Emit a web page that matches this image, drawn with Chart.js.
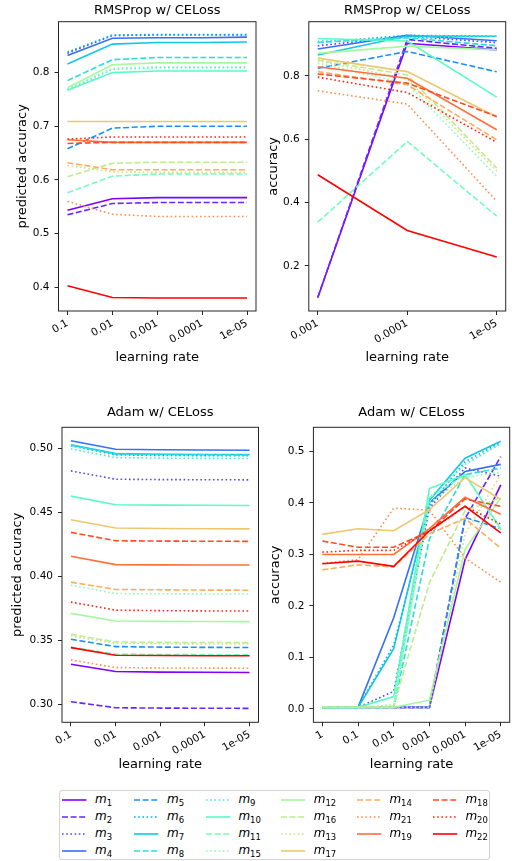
<!DOCTYPE html>
<html><head><meta charset="utf-8">
<script src="https://cdn.jsdelivr.net/npm/chart.js@4.4.0/dist/chart.umd.min.js"></script>
<style>
html,body{margin:0;padding:0;background:#fff;}
body{width:512px;height:861px;position:relative;overflow:hidden;font-family:'DejaVu Sans',sans-serif;}
canvas{position:absolute;}
#legend{position:absolute;left:59px;top:790px;width:431px;height:70px;border:1px solid #d4d4d4;border-radius:3px;box-sizing:border-box;background:#fff;}
.sample{position:absolute;}
.lab{position:absolute;white-space:nowrap;font-size:12px;line-height:18px;height:18px;color:#000;font-family:'DejaVu Sans',sans-serif;}
.lab i{font-style:italic;}
.lab sub{font-size:8.5px;vertical-align:-3px;line-height:0;font-style:normal;}
</style></head><body>
<canvas id="c1"></canvas>
<canvas id="c2"></canvas>
<canvas id="c3"></canvas>
<canvas id="c4"></canvas>
<div id="legend"></div>
<script>
// ---------------- DATA ----------------
// series in legend order (subscript of m)
const seriesIds = ['1','2','3','4','5','6','7','8','9','10','11','15','12','16','13','17','14','21','19','18','20','22'];

const lrLabels5 = ['0.1','0.01','0.001','0.0001','1e-05'];
const lrLabels3 = ['0.001','0.0001','1e-05'];
const lrLabels6 = ['1','0.1','0.01','0.001','0.0001','1e-05'];

const yTicksRmsPred = [0.4,0.5,0.6,0.7,0.8];
const yTicksRmsAcc = [0.2,0.4,0.6,0.8];
const yTicksAdamPred = [0.30,0.35,0.40,0.45,0.50];
const yTicksAdamAcc = [0.0,0.1,0.2,0.3,0.4,0.5];

// RMSProp w/ CELoss - predicted accuracy (rows follow seriesIds)
const rmsPredicted = [
  [0.5435, 0.565, 0.567, 0.567, 0.567],   // m1
  [0.535, 0.556, 0.558, 0.558, 0.558],    // m2
  [0.836, 0.869, 0.870, 0.870, 0.870],    // m3
  [0.832, 0.864, 0.865, 0.865, 0.866],    // m4
  [0.658, 0.6965, 0.700, 0.700, 0.700],   // m5
  [0.838, 0.870, 0.871, 0.871, 0.871],    // m6
  [0.816, 0.853, 0.856, 0.856, 0.857],    // m7
  [0.785, 0.824, 0.828, 0.828, 0.828],    // m8
  [0.768, 0.806, 0.809, 0.809, 0.809],    // m9
  [0.767, 0.800, 0.803, 0.803, 0.803],    // m10
  [0.576, 0.607, 0.611, 0.611, 0.611],    // m11
  [0.770, 0.808, 0.811, 0.811, 0.811],    // m15
  [0.772, 0.8146, 0.818, 0.818, 0.818],   // m12
  [0.606, 0.631, 0.633, 0.633, 0.633],    // m16
  [0.627, 0.615, 0.614, 0.614, 0.614],    // m13
  [0.709, 0.709, 0.709, 0.709, 0.709],    // m17
  [0.632, 0.619, 0.619, 0.619, 0.619],    // m14
  [0.560, 0.536, 0.532, 0.532, 0.532],    // m21
  [0.675, 0.670, 0.670, 0.670, 0.670],    // m19
  [0.668, 0.670, 0.670, 0.670, 0.670],    // m18
  [0.676, 0.680, 0.680, 0.680, 0.680],    // m20
  [0.403, 0.381, 0.380, 0.380, 0.380]     // m22
];

// RMSProp w/ CELoss - accuracy
const rmsAccuracy = [
  [0.10, 0.903, 0.882],   // m1
  [0.10, 0.915, 0.887],   // m2
  [0.895, 0.925, 0.905],  // m3
  [0.885, 0.928, 0.911],  // m4
  [0.824, 0.877, 0.813],  // m5
  [0.905, 0.928, 0.925],  // m6
  [0.866, 0.926, 0.925],  // m7
  [0.906, 0.920, 0.895],  // m8
  [0.910, 0.920, 0.925],  // m9
  [0.918, 0.910, 0.733],  // m10
  [0.338, 0.593, 0.357],  // m11
  [0.840, 0.775, 0.482],  // m15
  [0.871, 0.894, 0.882],  // m12
  [0.850, 0.803, 0.509],  // m16
  [0.848, 0.790, 0.500],  // m13
  [0.856, 0.8135, 0.670], // m17
  [0.8135, 0.772, 0.598], // m14
  [0.753, 0.711, 0.404],  // m21
  [0.829, 0.7925, 0.630], // m19
  [0.806, 0.777, 0.672],  // m18
  [0.796, 0.7475, 0.590], // m20
  [0.488, 0.312, 0.228]   // m22
];

// Adam w/ CELoss - predicted accuracy
const adamPredicted = [
  [0.3311, 0.3254, 0.3249, 0.3248, 0.3247], // m1
  [0.3018, 0.2971, 0.2968, 0.2967, 0.2966], // m2
  [0.4823, 0.4758, 0.4755, 0.4754, 0.4753], // m3
  [0.5059, 0.4992, 0.4988, 0.4986, 0.4985], // m4
  [0.3506, 0.3449, 0.3445, 0.3443, 0.3442], // m5
  [0.5020, 0.4948, 0.4944, 0.4942, 0.4941], // m6
  [0.5028, 0.4958, 0.4953, 0.4951, 0.4950], // m7
  [0.5024, 0.4955, 0.4951, 0.4949, 0.4948], // m8
  [0.4995, 0.4927, 0.4923, 0.4921, 0.4920], // m9
  [0.4626, 0.4558, 0.4555, 0.4554, 0.4553], // m10
  [0.3446, 0.3389, 0.3387, 0.3386, 0.3385], // m11
  [0.3929, 0.3864, 0.3862, 0.3861, 0.3860], // m15
  [0.3709, 0.3649, 0.3646, 0.3645, 0.3644], // m12
  [0.3545, 0.3485, 0.3482, 0.3481, 0.3480], // m16
  [0.3532, 0.3474, 0.3471, 0.3470, 0.3469], // m13
  [0.4441, 0.4376, 0.4372, 0.4371, 0.4370], // m17
  [0.3953, 0.3896, 0.3893, 0.3891, 0.3890], // m14
  [0.3345, 0.3285, 0.3282, 0.3281, 0.3280], // m21
  [0.4155, 0.4090, 0.4088, 0.4087, 0.4087], // m19
  [0.4342, 0.4277, 0.4274, 0.4273, 0.4272], // m18
  [0.3797, 0.3734, 0.3730, 0.3728, 0.3727], // m20
  [0.3441, 0.3381, 0.3379, 0.3378, 0.3377]  // m22
];

// Adam w/ CELoss - accuracy
const adamAccuracy = [
  [0.003, 0.003, 0.003, 0.003, 0.290, 0.435], // m1
  [0.003, 0.003, 0.003, 0.003, 0.370, 0.490], // m2
  [0.003, 0.003, 0.034, 0.390, 0.468, 0.452], // m3
  [0.003, 0.003, 0.177, 0.400, 0.461, 0.475], // m4
  [0.003, 0.003, 0.003, 0.003, 0.372, 0.350], // m5
  [0.003, 0.003, 0.124, 0.395, 0.480, 0.518], // m6
  [0.003, 0.003, 0.117, 0.405, 0.487, 0.520], // m7
  [0.003, 0.003, 0.003, 0.330, 0.455, 0.468], // m8
  [0.003, 0.003, 0.005, 0.410, 0.475, 0.515], // m9
  [0.003, 0.003, 0.024, 0.428, 0.455, 0.350], // m10
  [0.003, 0.003, 0.003, 0.410, 0.455, 0.348], // m11
  [0.003, 0.003, 0.008, 0.400, 0.450, 0.460], // m15
  [0.003, 0.003, 0.003, 0.017, 0.310, 0.410], // m12
  [0.003, 0.003, 0.005, 0.245, 0.385, 0.410], // m16
  [0.003, 0.003, 0.003, 0.003, 0.340, 0.455], // m13
  [0.339, 0.350, 0.346, 0.387, 0.449, 0.407], // m17
  [0.270, 0.280, 0.2755, 0.340, 0.370, 0.312], // m14
  [0.283, 0.290, 0.390, 0.386, 0.293, 0.246], // m21
  [0.300, 0.300, 0.300, 0.350, 0.411, 0.378], // m19
  [0.326, 0.314, 0.314, 0.345, 0.408, 0.3935], // m18
  [0.3045, 0.308, 0.308, 0.345, 0.3935, 0.359], // m20
  [0.282, 0.287, 0.277, 0.346, 0.3935, 0.342]  // m22
];

// ---------------- STYLE ----------------
function rainbow(x){
  const c = v => Math.max(0, Math.min(1, v));
  const r = c(Math.abs(2*x - 0.5)), g = c(Math.sin(Math.PI*x)), b = c(Math.cos(Math.PI*x/2));
  return 'rgb(' + Math.round(r*255) + ',' + Math.round(g*255) + ',' + Math.round(b*255) + ')';
}
const N = seriesIds.length;
const colors = seriesIds.map((_, i) => rainbow(i/(N-1)));
const dashStyles = [[], [6.0, 2.6], [1.6, 2.6]];
const dashFor = i => dashStyles[i % 3];
const LW = 1.6;

Chart.defaults.font.family = "'DejaVu Sans', sans-serif";
Chart.defaults.color = '#000';

const framePlugin = {
  id: 'frame',
  afterDatasetsDraw(chart){
    const {ctx, chartArea:{left, top, right, bottom}} = chart;
    ctx.save();
    ctx.strokeStyle = '#262626';
    ctx.lineWidth = 1;
    ctx.strokeRect(left, top, right-left, bottom-top);
    ctx.restore();
  }
};

function makeChart(cfg){
  const cv = document.getElementById(cfg.id);
  const r = cfg.rect, a = cfg.area;
  cv.width = r.w; cv.height = r.h;
  cv.style.left = r.x + 'px'; cv.style.top = r.y + 'px';
  cv.style.width = r.w + 'px'; cv.style.height = r.h + 'px';
  const half = 13*1.2/2;
  const padLeft = cfg.yLabX - r.x - half;
  const yWidth = a.L - r.x - padLeft;
  const padRight = r.x + r.w - a.R;
  const padTop = (cfg.titleY - r.y) - half;
  const titleBottom = a.T - cfg.titleY - half;
  const xHeight = cfg.xLabY - a.B + half;
  const padBottom = (r.y + r.h) - (a.B + xHeight);

  const datasets = cfg.rows.map((row, i) => ({
    label: 'm' + seriesIds[i],
    data: row.map((v, j) => ({x: j, y: v})),
    borderColor: colors[i],
    backgroundColor: colors[i],
    borderWidth: LW,
    borderDash: dashFor(i),
    borderCapStyle: 'butt',
    pointRadius: 0,
    tension: 0,
    fill: false,
    order: -i
  }));
  const n = cfg.xLabels.length;
  return new Chart(cv, {
    type: 'line',
    data: {datasets},
    plugins: [framePlugin],
    options: {
      responsive: false, animation: false, devicePixelRatio: 1,
      layout: {padding: {left: padLeft, right: padRight, top: padTop, bottom: padBottom}},
      plugins: {
        legend: {display: false}, tooltip: {enabled: false},
        title: {display: true, text: cfg.title, fullSize: false,
                font: {size: 13, weight: 'normal'}, color: '#000',
                padding: {top: 0, bottom: titleBottom}}
      },
      scales: {
        x: {
          type: 'linear', min: cfg.xMin, max: cfg.xMax,
          afterBuildTicks: s => { s.ticks = cfg.xLabels.map((_, j) => ({value: j})); },
          afterFit: s => { s.height = xHeight; s.paddingLeft = 0; s.paddingRight = 0; s.paddingTop = 0; s.paddingBottom = 0; },
          ticks: {autoSkip: false, minRotation: 30, maxRotation: 30, padding: 2,
                  font: {size: 10.5}, color: '#000',
                  callback: v => cfg.xLabels[v]},
          grid: {display: true, drawOnChartArea: false, drawTicks: true, tickLength: 4, color: '#262626', lineWidth: 1},
          border: {display: false},
          title: {display: true, text: 'learning rate', font: {size: 13}, color: '#000', padding: {top: 0, bottom: 0}}
        },
        y: {
          type: 'linear', min: cfg.yMin, max: cfg.yMax,
          afterBuildTicks: s => { s.ticks = cfg.yTicks.map(v => ({value: v})); },
          afterFit: s => { s.width = yWidth; s.paddingLeft = 0; s.paddingRight = 0; s.paddingTop = 0; s.paddingBottom = 0; },
          ticks: {padding: 5, font: {size: 10.5}, color: '#000',
                  callback: v => Number(v).toFixed(cfg.yDec)},
          grid: {display: true, drawOnChartArea: false, drawTicks: true, tickLength: 4, color: '#262626', lineWidth: 1},
          border: {display: false},
          title: {display: true, text: cfg.yLabel, font: {size: 13}, color: '#000', padding: {top: 0, bottom: 0}}
        }
      }
    }
  });
}

makeChart({id: 'c1', rect: {x: 0, y: 0, w: 275, h: 380}, area: {L: 58.5, T: 21.7, R: 256, B: 311},
  titleY: 10.5, yLabX: 23, xLabY: 358, title: 'RMSProp w/ CELoss', yLabel: 'predicted accuracy',
  xLabels: lrLabels5, xMin: -0.2, xMax: 4.2, yTicks: yTicksRmsPred, yDec: 1, yMin: 0.3558, yMax: 0.8948, rows: rmsPredicted});
makeChart({id: 'c2', rect: {x: 262, y: 0, w: 250, h: 380}, area: {L: 308.8, T: 21.7, R: 505.7, B: 311},
  titleY: 10.5, yLabX: 273.5, xLabY: 358, title: 'RMSProp w/ CELoss', yLabel: 'accuracy',
  xLabels: lrLabels3, xMin: -0.1, xMax: 2.1, yTicks: yTicksRmsAcc, yDec: 1, yMin: 0.0577, yMax: 0.971, rows: rmsAccuracy});
makeChart({id: 'c3', rect: {x: 0, y: 385, w: 275, h: 405}, area: {L: 62, T: 427.3, R: 258.5, B: 722.3},
  titleY: 413, yLabX: 18, xLabY: 765, title: 'Adam w/ CELoss', yLabel: 'predicted accuracy',
  xLabels: lrLabels5, xMin: -0.2, xMax: 4.2, yTicks: yTicksAdamPred, yDec: 2, yMin: 0.2857, yMax: 0.5164, rows: adamPredicted});
makeChart({id: 'c4', rect: {x: 262, y: 385, w: 250, h: 405}, area: {L: 313.4, T: 427.3, R: 509.7, B: 722.3},
  titleY: 413, yLabX: 275.5, xLabY: 765, title: 'Adam w/ CELoss', yLabel: 'accuracy',
  xLabels: lrLabels6, xMin: -0.25, xMax: 5.25, yTicks: yTicksAdamAcc, yDec: 1, yMin: -0.026, yMax: 0.547, rows: adamAccuracy});

// ---------------- LEGEND (HTML) ----------------
const legendColX = [62.3, 134.3, 205.7, 281, 356.7, 432.7];
const legendRowY = [800, 817.2, 834.3, 851.3];
const perCol = [4, 4, 4, 4, 3, 3];
const body = document.body;
let idx = 0;
perCol.forEach((cnt, c) => {
  for (let rr = 0; rr < cnt; rr++, idx++) {
    const i = idx;
    const x = legendColX[c], y = legendRowY[rr];
    const ns = 'http://www.w3.org/2000/svg';
    const svg = document.createElementNS(ns, 'svg');
    svg.setAttribute('width', '25'); svg.setAttribute('height', '4');
    svg.setAttribute('class', 'sample');
    svg.style.left = x + 'px'; svg.style.top = (y - 2) + 'px';
    const ln = document.createElementNS(ns, 'line');
    ln.setAttribute('x1', '0'); ln.setAttribute('x2', '24.3');
    ln.setAttribute('y1', '2'); ln.setAttribute('y2', '2');
    ln.setAttribute('stroke', colors[i]); ln.setAttribute('stroke-width', LW);
    const d = dashFor(i);
    if (d.length) ln.setAttribute('stroke-dasharray', d.join(' '));
    svg.appendChild(ln);
    body.appendChild(svg);
    const lab = document.createElement('div');
    lab.className = 'lab';
    lab.style.left = (x + 32.7) + 'px';
    lab.style.top = (y - 10) + 'px';
    lab.innerHTML = '<i>m</i><sub>' + seriesIds[i] + '</sub>';
    body.appendChild(lab);
  }
});
</script>
</body></html>
